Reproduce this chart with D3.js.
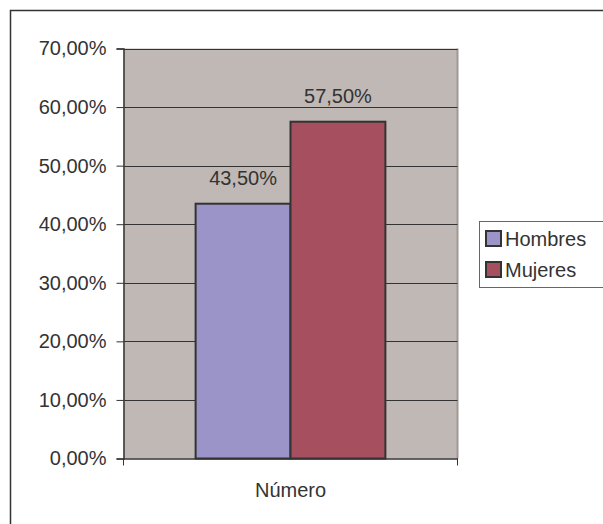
<!DOCTYPE html>
<html><head><meta charset="utf-8">
<script src="https://cdn.jsdelivr.net/npm/d3@7"></script>
<style>body{margin:0;background:#fff}svg{display:block}text{font-family:"Liberation Sans",Arial,sans-serif;fill:#333}</style>
</head><body>
<script>
const categories = ["Número"];
const seriesNames = ["Hombres", "Mujeres"];
const seriesValues = [0.435, 0.575];
const seriesColors = ["#9A94C8", "#A6505F"];
const yTicks = [0, 0.1, 0.2, 0.3, 0.4, 0.5, 0.6, 0.7];

const W = 603, H = 524;
const svg = d3.select("body").append("svg").attr("width", W).attr("height", H);
const fmt = v => (v * 100).toFixed(2).replace(".", ",") + "%";

// outer chart border (cropped on right/bottom)
svg.append("rect").attr("x", 10.5).attr("y", 10.5).attr("width", 620).attr("height", 540)
  .attr("fill", "#fff").attr("stroke", "#333").attr("stroke-width", 1.5);

const L = 123.5, R = 457.5, T = 48.5, B = 458.5;
const y = d3.scaleLinear().domain([0, 0.7]).range([B, T]);
const x0 = d3.scaleBand().domain(categories).range([L, R]).paddingInner(0).paddingOuter(0);
const x1 = d3.scaleBand().domain(seriesNames).range([0, x0.bandwidth()]).paddingOuter(0.76).paddingInner(0);

svg.append("rect").attr("x", L).attr("y", T).attr("width", R - L).attr("height", B - T)
  .attr("fill", "#C0B8B5");
svg.append("line").attr("x1", R).attr("x2", R).attr("y1", T).attr("y2", B)
  .attr("stroke", "#A09894").attr("stroke-width", 2);

// gridlines
svg.append("g").selectAll("line").data(yTicks.slice(1)).join("line")
  .attr("x1", L).attr("x2", R).attr("y1", d => Math.round(y(d)) + 0.5).attr("y2", d => Math.round(y(d)) + 0.5)
  .attr("stroke", "#333").attr("stroke-width", 1);

// y axis
const yAxis = d3.axisLeft(y).tickValues(yTicks).tickFormat(fmt).tickSize(7).tickPadding(10);
const gy = svg.append("g").attr("transform", `translate(${L},0)`).call(yAxis);
gy.select(".domain").attr("stroke", "#333").attr("stroke-width", 1.5);
gy.selectAll(".tick line").attr("stroke", "#333");
gy.selectAll("text").style("font-size", "20px").attr("fill", "#333").attr("font-family", null);

// bars
const g = svg.append("g").attr("transform", `translate(${x0(categories[0])},0)`);
g.selectAll("rect").data(seriesNames).join("rect")
  .attr("x", d => x1(d)).attr("width", x1.bandwidth())
  .attr("y", (d, i) => y(seriesValues[i])).attr("height", (d, i) => B - y(seriesValues[i]))
  .attr("fill", (d, i) => seriesColors[i]).attr("stroke", "#333").attr("stroke-width", 2);
g.selectAll("text.lbl").data(seriesNames).join("text").attr("class", "lbl")
  .attr("x", d => x1(d) + x1.bandwidth() / 2).attr("y", (d, i) => y(seriesValues[i]) - 19)
  .attr("text-anchor", "middle").style("font-size", "20px").text((d, i) => fmt(seriesValues[i]));

// x axis
const xAxis = d3.axisBottom(x0).tickSize(0).tickPadding(24);
const gx = svg.append("g").attr("transform", `translate(0,${B})`).call(xAxis);
gx.select(".domain").attr("stroke", "#333").attr("stroke-width", 1.5);
gx.selectAll("text").style("font-size", "20px").attr("fill", "#333").attr("font-family", null);
svg.append("g").selectAll("line").data([L, R]).join("line")
  .attr("x1", d => d).attr("x2", d => d).attr("y1", B).attr("y2", B + 7).attr("stroke", "#333");

// legend
const lg = svg.append("g");
lg.append("rect").attr("x", 479.5).attr("y", 221.5).attr("width", 140).attr("height", 66)
  .attr("fill", "#fff").attr("stroke", "#666").attr("stroke-width", 1);
seriesNames.forEach((s, i) => {
  const yy = 231 + i * 31;
  lg.append("rect").attr("x", 486).attr("y", yy).attr("width", 15).attr("height", 15)
    .attr("fill", seriesColors[i]).attr("stroke", "#333").attr("stroke-width", 2);
  lg.append("text").attr("x", 505).attr("y", yy + 15).style("font-size", "20px").text(s);
});
</script>
</body></html>
